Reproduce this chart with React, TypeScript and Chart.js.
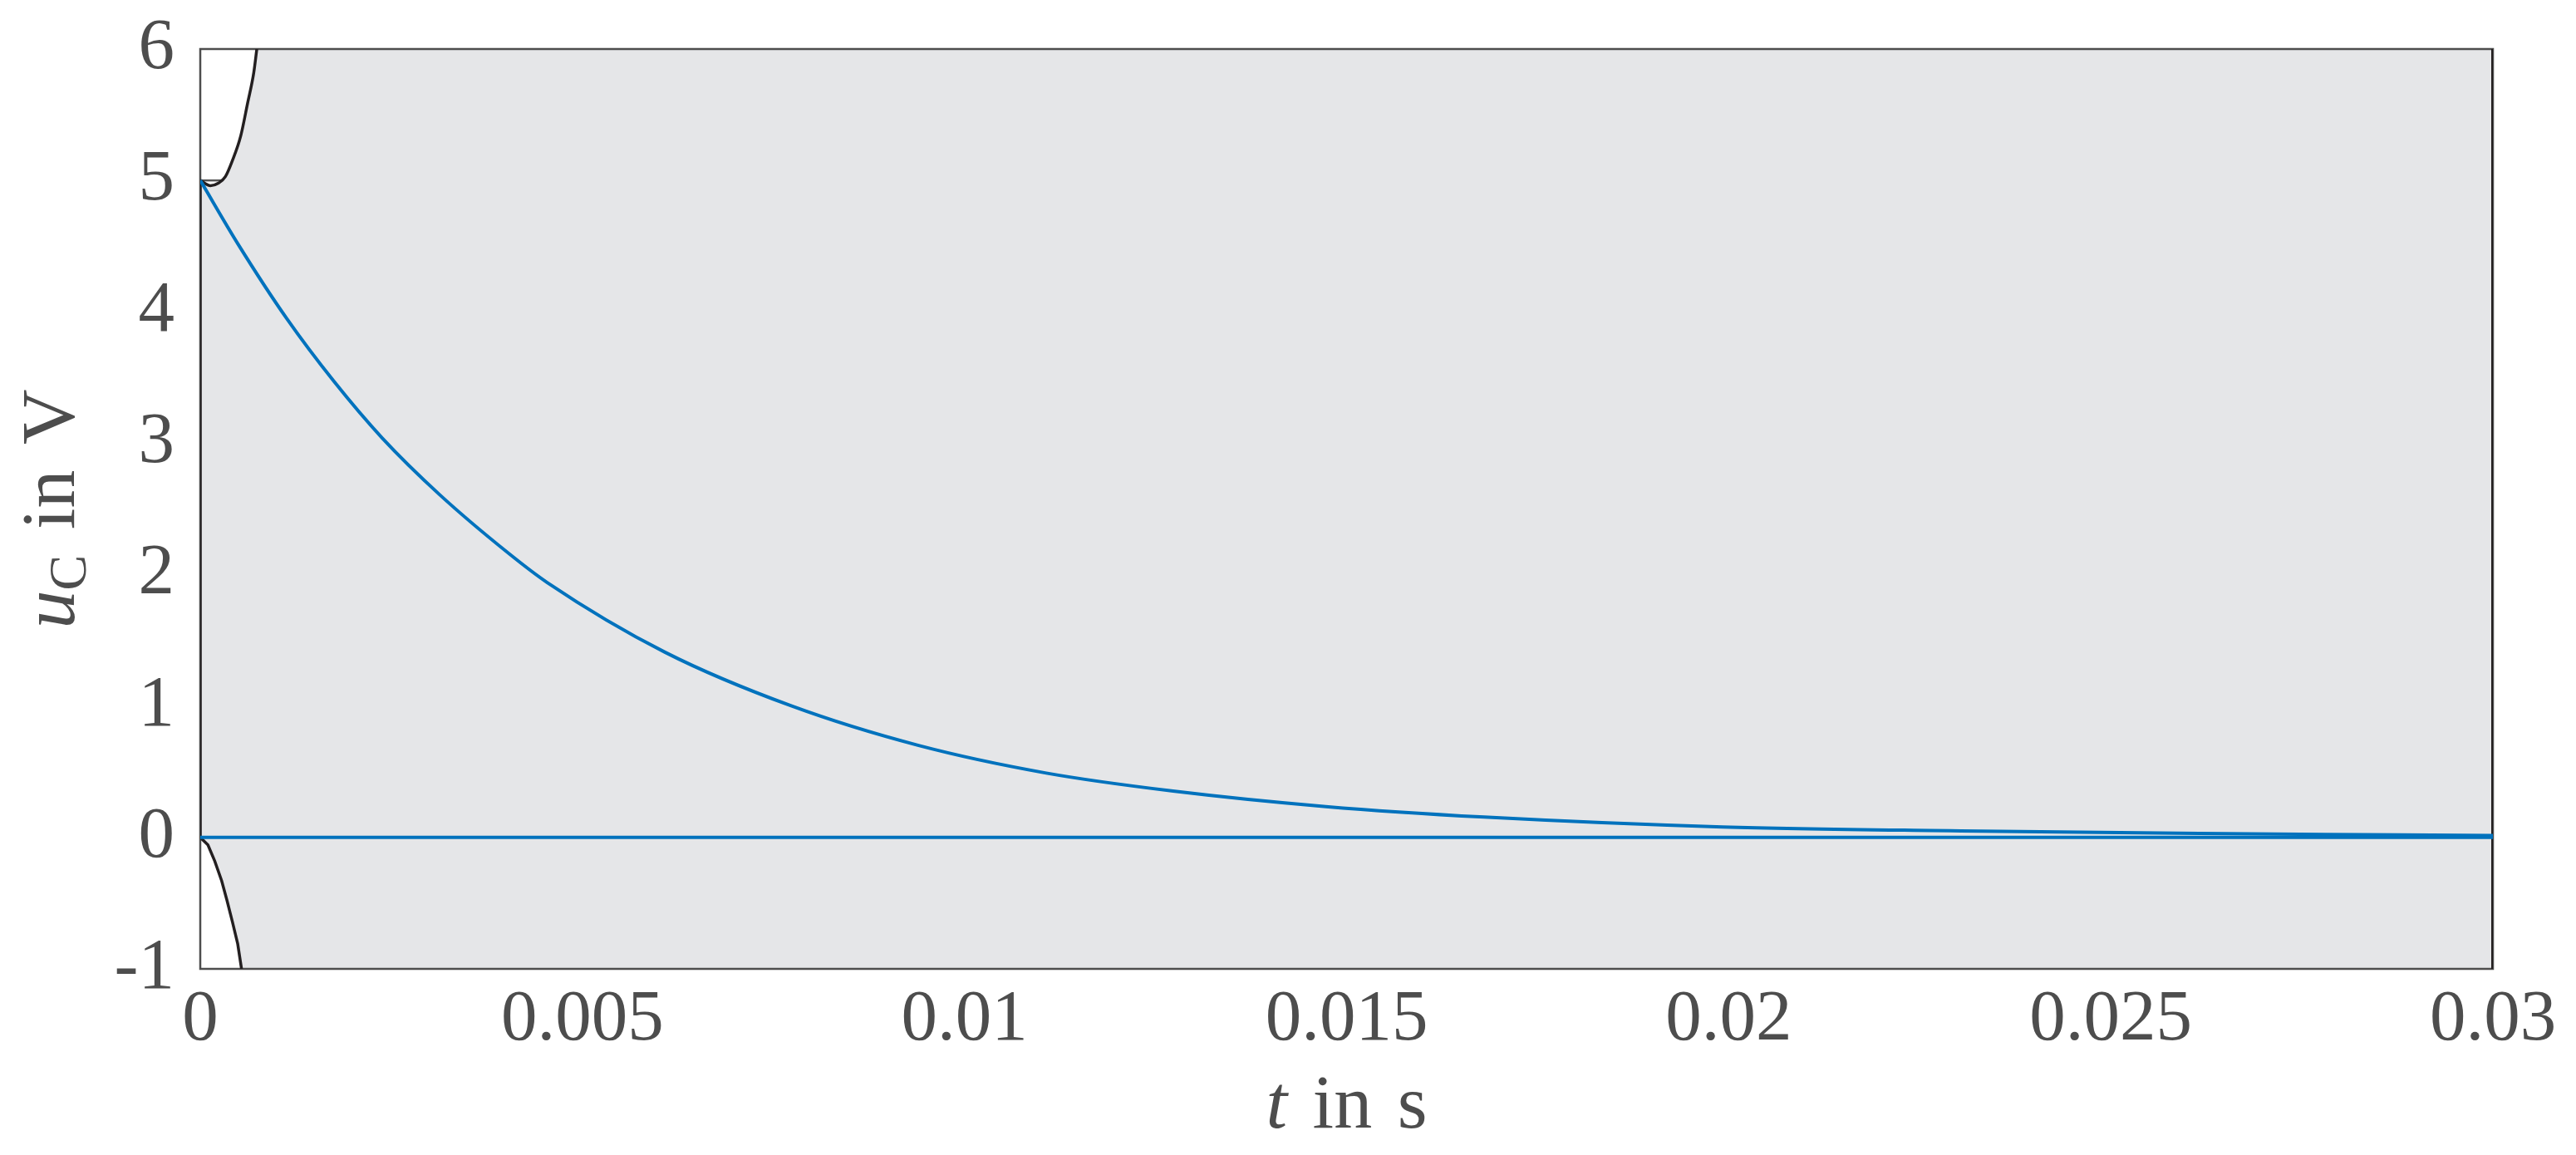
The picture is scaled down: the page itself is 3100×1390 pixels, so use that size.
import { useEffect, useRef } from "react";
import { Chart, registerables } from "chart.js";

Chart.register(...registerables);

// ---- axis ticks ----
const xTicks = [0, 0.005, 0.01, 0.015, 0.02, 0.025, 0.03];
const xTickLabels = ["0", "0.005", "0.01", "0.015", "0.02", "0.025", "0.03"];
const yTicks = [-1, 0, 1, 2, 3, 4, 5, 6];
const yTickLabels = ["-1", "0", "1", "2", "3", "4", "5", "6"];
const X_MIN = 0;
const X_MAX = 0.03;
const Y_MIN = -1;
const Y_MAX = 6;

// ---- blue: discharge curve u_C(t) ----
const decayT = [0, 0.0005, 0.00113, 0.00175, 0.00238, 0.00313, 0.00404, 0.00454, 0.00608, 0.00774, 0.0094, 0.01107, 0.01273, 0.01473, 0.0168, 0.01992, 0.02304, 0.02616, 0.0288, 0.03];
const decayV = [5, 4.51, 3.95, 3.47, 3.04, 2.61, 2.16, 1.94, 1.41, 1.0, 0.7, 0.49, 0.353, 0.235, 0.155, 0.08, 0.05, 0.03, 0.02, 0.015];

// ---- blue: zero trajectory ----
const zeroT = [0, 0.03];
const zeroV = [0, 0];

// ---- black: upper boundary of the region ----
const upperT = [0, 0.000134, 0.00024, 0.00033, 0.00042, 0.00053, 0.00062, 0.0007, 0.00074];
const upperV = [5, 4.96, 4.98, 5.03, 5.15, 5.34, 5.59, 5.82, 6.0];

// ---- black: lower boundary of the region ----
const lowerT = [0, 0.0001, 0.00019, 0.00028, 0.00035, 0.00042, 0.00049, 0.00054];
const lowerV = [0, -0.057, -0.18, -0.33, -0.48, -0.64, -0.81, -1.0];

// ---- black: vertical boundaries ----
const leftEdgeT = [0, 0];
const leftEdgeV = [0, 5];
const rightEdgeT = [0.03, 0.03];
const rightEdgeV = [-1, 6];

// ---- grey short edge at u = 5 ----
const ledgeT = [0, 0.00028];
const ledgeV = [5, 5];

// ---- axis titles ----
const xTitleParts = [
  { text: "t", italic: true, sub: false },
  { text: "in", italic: false, sub: false, gap: true },
  { text: "s", italic: false, sub: false, gap: true },
];
const yTitleParts = [
  { text: "u", italic: true, sub: false },
  { text: "C", italic: false, sub: true },
  { text: "in", italic: false, sub: false, gap: true },
  { text: "V", italic: false, sub: false, gap: true },
];

const pts = (t: number[], v: number[]) => t.map((x, i) => ({ x, y: v[i] }));

const FONT = "'Liberation Serif', 'Times New Roman', serif";
const TEXT = "#4d4d4d";

export default function App() {
  const ref = useRef<HTMLCanvasElement | null>(null);

  useEffect(() => {
    const canvas = ref.current!;
    const polygon = [
      ...pts(lowerT.slice(0, 1), lowerV.slice(0, 1)),
      ...pts(upperT, upperV),
      { x: X_MAX, y: Y_MAX },
      { x: X_MAX, y: Y_MIN },
      ...pts(lowerT, lowerV).reverse(),
    ];

    const FILL_INDEX = 7;

    const boxPlugin = {
      id: "boxPlugin",
      afterDatasetDraw(chart: any, args: any) {
        if (args.index !== FILL_INDEX) return;
        const { ctx, chartArea: a } = chart;
        ctx.save();
        ctx.strokeStyle = TEXT;
        ctx.lineWidth = 2.5;
        ctx.strokeRect(a.left, a.top, a.right - a.left, a.bottom - a.top);
        ctx.restore();
      },
    };

    const SIZE = 92;
    const GAP = SIZE * 0.333;
    const fontOf = (p: any) =>
      p.sub ? `${Math.round(SIZE * 0.7)}px ${FONT}` : `${p.italic ? "italic " : ""}${SIZE}px ${FONT}`;

    const drawParts = (ctx: CanvasRenderingContext2D, parts: any[], cx: number, baseY: number) => {
      const widths = parts.map((p) => {
        ctx.font = fontOf(p);
        return ctx.measureText(p.text).width;
      });
      const total = widths.reduce((s, w, i) => s + w + (parts[i].gap ? GAP : 0), 0);
      let x = cx - total / 2;
      parts.forEach((p, i) => {
        if (p.gap) x += GAP;
        ctx.font = fontOf(p);
        ctx.fillText(p.text, x, baseY + (p.sub ? 14 : 0));
        x += widths[i];
      });
    };

    const titlePlugin = {
      id: "titlePlugin",
      afterDraw(chart: any) {
        const { ctx, chartArea: a } = chart;
        ctx.save();
        ctx.fillStyle = TEXT;
        ctx.textBaseline = "alphabetic";
        ctx.textAlign = "left";
        drawParts(ctx, xTitleParts, (a.left + a.right) / 2, a.bottom + 191);
        ctx.translate(a.left - 152, (a.top + a.bottom) / 2);
        ctx.rotate(-Math.PI / 2);
        drawParts(ctx, yTitleParts, 0, 0);
        ctx.restore();
      },
    };

    const lineDs = (label: string, data: any[], color: string, width: number, extra: any = {}) => ({
      label,
      data,
      borderColor: color,
      backgroundColor: color,
      borderWidth: width,
      pointRadius: 0,
      showLine: true,
      fill: false,
      tension: 0,
      ...extra,
    });

    const chart = new Chart(canvas, {
      type: "scatter",
      data: {
        datasets: [
          lineDs("decay", pts(decayT, decayV), "#0072BD", 4, { cubicInterpolationMode: "monotone" }),
          lineDs("zero", pts(zeroT, zeroV), "#0072BD", 4),
          lineDs("upper", pts(upperT, upperV), "#231f20", 3.5, { cubicInterpolationMode: "monotone" }),
          lineDs("lower", pts(lowerT, lowerV), "#231f20", 3.5),
          lineDs("leftEdge", pts(leftEdgeT, leftEdgeV), "#231f20", 3.5),
          lineDs("rightEdge", pts(rightEdgeT, rightEdgeV), "#231f20", 4),
          lineDs("ledge", pts(ledgeT, ledgeV), "#555555", 2.5),
          {
            label: "region",
            data: polygon,
            borderColor: "rgba(0,0,0,0)",
            backgroundColor: "#e5e6e8",
            borderWidth: 0,
            pointRadius: 0,
            showLine: true,
            fill: "shape",
            tension: 0,
          },
        ],
      },
      options: {
        animation: false,
        responsive: false,
        devicePixelRatio: 1,
        layout: { padding: { top: 59, right: 100, left: 0, bottom: 0 } },
        plugins: {
          legend: { display: false },
          tooltip: { enabled: false },
          title: { display: false },
        },
        scales: {
          x: {
            type: "linear",
            min: X_MIN,
            max: X_MAX,
            grid: { display: false, drawTicks: false },
            border: { display: false },
            afterBuildTicks: (s: any) => {
              s.ticks = xTicks.map((v) => ({ value: v }));
            },
            afterFit: (s: any) => {
              s.height = 224;
              s.paddingLeft = 0;
              s.paddingRight = 0;
            },
            ticks: {
              autoSkip: false,
              maxRotation: 0,
              padding: 10,
              color: TEXT,
              font: { family: FONT, size: 87 },
              callback: (v: any) => {
                const i = xTicks.findIndex((t) => Math.abs(t - v) < 1e-9);
                return i >= 0 ? xTickLabels[i] : "";
              },
            },
          },
          y: {
            type: "linear",
            min: Y_MIN,
            max: Y_MAX,
            grid: { display: false, drawTicks: false },
            border: { display: false },
            afterBuildTicks: (s: any) => {
              s.ticks = yTicks.map((v) => ({ value: v }));
            },
            afterFit: (s: any) => {
              s.width = 241;
              s.paddingTop = 0;
              s.paddingBottom = 0;
            },
            ticks: {
              autoSkip: false,
              padding: 31,
              color: TEXT,
              font: { family: FONT, size: 87 },
              callback: (v: any) => {
                const i = yTicks.findIndex((t) => Math.abs(t - v) < 1e-9);
                return i >= 0 ? yTickLabels[i] : "";
              },
            },
          },
        },
      },
      plugins: [boxPlugin, titlePlugin],
    } as any);

    return () => chart.destroy();
  }, []);

  return (
    <canvas
      ref={ref}
      width={3100}
      height={1390}
      style={{ position: "absolute", left: 0, top: 0, width: 3100, height: 1390 }}
    />
  );
}
